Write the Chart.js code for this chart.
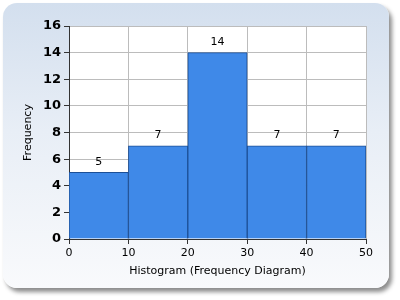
<!DOCTYPE html>
<html>
<head>
<meta charset="utf-8">
<script src="https://cdn.jsdelivr.net/npm/chart.js@4"></script>
<style>
  body { margin: 0; width: 400px; height: 300px; background: #fff; position: relative; overflow: hidden; }
  #frame {
    position: absolute; left: 3px; top: 3px; width: 386px; height: 285px;
    border-radius: 14px;
    background: linear-gradient(to bottom, #d3dfee 0%, #e8eef6 45%, #f9fafc 100%);
    box-shadow: 3px 4px 4px rgba(0,0,0,0.45);
  }
  #wrap { position: absolute; left: 0; top: 0; width: 400px; height: 300px; }
</style>
</head>
<body>
<div id="frame"></div>
<div id="wrap"><canvas id="hist" width="400" height="300"></canvas></div>
<script>
var binCenters = [5, 15, 25, 35, 45];
var frequencies = [5, 7, 14, 7, 7];
var xTitle = 'Histogram (Frequency Diagram)';
var yTitle = 'Frequency';

// white plot area behind grid
var plotBackground = {
  id: 'plotBackground',
  beforeDraw: function(chart) {
    var a = chart.chartArea;
    chart.ctx.save();
    chart.ctx.fillStyle = '#fff';
    chart.ctx.fillRect(a.left, a.top, a.right - a.left, a.bottom - a.top);
    chart.ctx.restore();
  }
};

// draws the count above each bar
var valueLabels = {
  id: 'valueLabels',
  afterDatasetsDraw: function(chart) {
    var ctx = chart.ctx;
    var meta = chart.getDatasetMeta(0);
    ctx.save();
    ctx.font = '11px Tahoma, "DejaVu Sans", sans-serif';
    ctx.fillStyle = '#000';
    ctx.textAlign = 'center';
    ctx.textBaseline = 'bottom';
    meta.data.forEach(function(bar, i) {
      ctx.fillText(frequencies[i], bar.x, bar.y - 5);
    });
    ctx.restore();
  }
};

var histCtx = document.getElementById('hist');
var histChart = new Chart(histCtx, {
  type: 'bar',
  data: {
    datasets: [{
      label: 'Frequency',
      data: binCenters.map(function(x, i) { return { x: x, y: frequencies[i] }; }),
      backgroundColor: '#3f89e8',
      borderColor: '#1c4f96',
      borderWidth: 1,
      barPercentage: 1.0,
      categoryPercentage: 1.0
    }]
  },
  options: {
    responsive: false,
    animation: false,
    layout: { padding: { left: 22, top: 26, right: 34, bottom: 22 } },
    plugins: { legend: { display: false }, tooltip: { enabled: false } },
    scales: {
      x: {
        type: 'linear',
        min: 0, max: 50,
        offset: false,
        afterFit: function(scale) { scale.height = 39; },
        ticks: { stepSize: 10, color: '#000', padding: 3, font: { size: 11, family: 'Tahoma, "DejaVu Sans", sans-serif' } },
        grid: { offset: false, color: '#bcbcbc', tickColor: '#333', tickLength: 5 },
        border: { color: '#333' },
        title: { display: true, text: xTitle, color: '#000', padding: 0, font: { size: 11, family: 'Tahoma, "DejaVu Sans", sans-serif' } }
      },
      y: {
        min: 0, max: 16,
        afterFit: function(scale) { scale.width = 47; },
        ticks: { stepSize: 2, color: '#000', padding: 3, font: { size: 13, weight: 'bold', family: 'Tahoma, "DejaVu Sans", sans-serif' } },
        grid: { color: '#bcbcbc', tickColor: '#333', tickLength: 5 },
        border: { color: '#333' },
        title: { display: true, text: yTitle, color: '#000', padding: 0, font: { size: 11, family: 'Tahoma, "DejaVu Sans", sans-serif' } }
      }
    }
  },
  plugins: [plotBackground, valueLabels]
});
</script>
</body>
</html>
